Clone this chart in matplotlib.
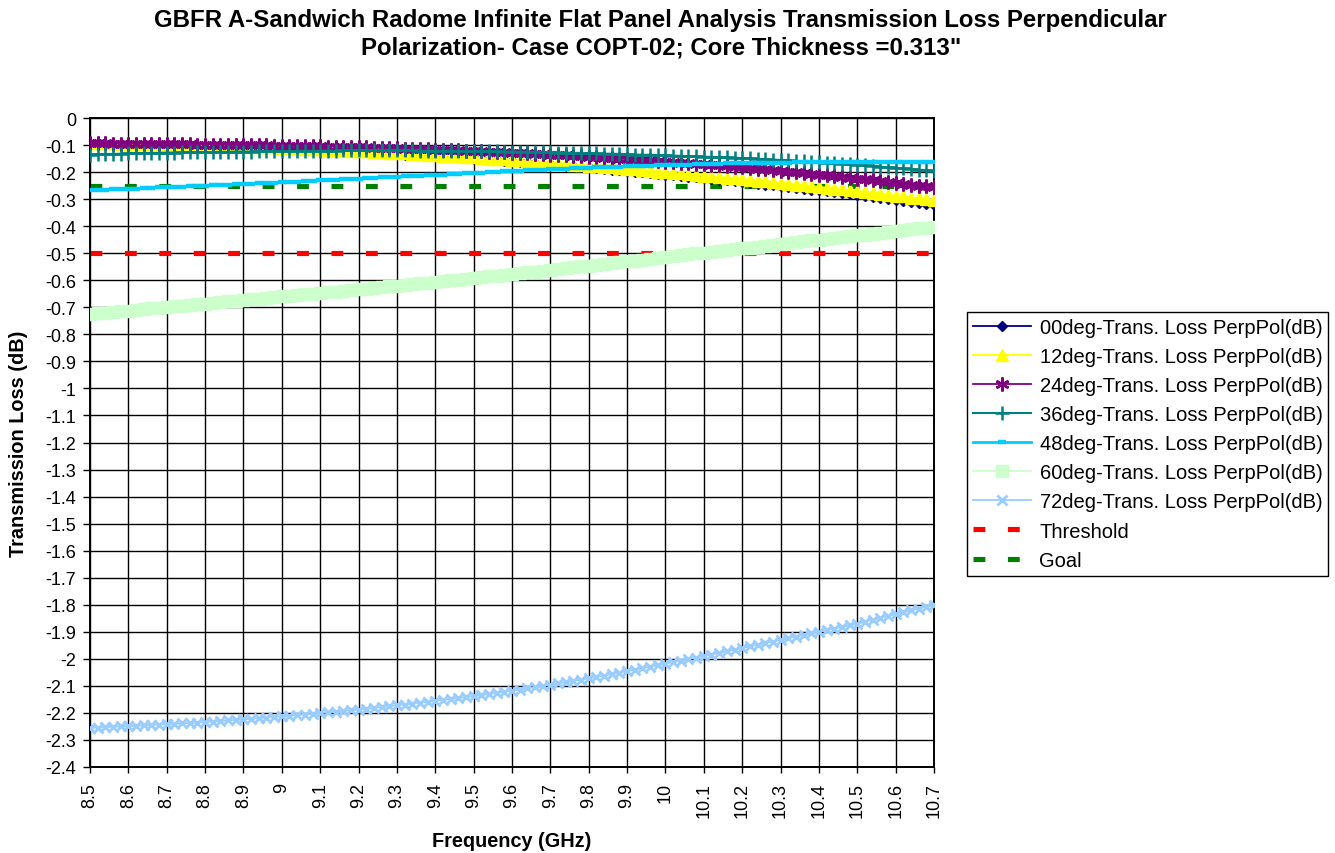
import matplotlib.pyplot as plt

plt.rcParams['font.family'] = ['Liberation Sans', 'DejaVu Sans']

# frequency categories, 8.50 .. 10.70 GHz in 0.02 steps (Excel category axis)
freq = [round(8.5 + 0.02 * i, 2) for i in range(111)]
tick_labels = ['8.5', '8.6', '8.7', '8.8', '8.9', '9', '9.1', '9.2', '9.3', '9.4', '9.5', '9.6',
               '9.7', '9.8', '9.9', '10', '10.1', '10.2', '10.3', '10.4', '10.5', '10.6', '10.7']

loss_00 = [
    -0.095, -0.095, -0.096, -0.096, -0.097, -0.097, -0.098, -0.098, -0.099, -0.099,
    -0.100, -0.101, -0.102, -0.102, -0.103, -0.104, -0.105, -0.106, -0.106, -0.107,
    -0.108, -0.109, -0.110, -0.111, -0.112, -0.113, -0.114, -0.115, -0.117, -0.118,
    -0.119, -0.120, -0.122, -0.123, -0.125, -0.126, -0.127, -0.129, -0.130, -0.132,
    -0.133, -0.135, -0.136, -0.138, -0.139, -0.141, -0.143, -0.145, -0.146, -0.148,
    -0.150, -0.152, -0.154, -0.156, -0.158, -0.160, -0.162, -0.164, -0.167, -0.169,
    -0.171, -0.173, -0.176, -0.178, -0.181, -0.183, -0.186, -0.188, -0.191, -0.193,
    -0.196, -0.199, -0.201, -0.204, -0.206, -0.209, -0.212, -0.215, -0.217, -0.220,
    -0.223, -0.226, -0.229, -0.231, -0.234, -0.237, -0.240, -0.243, -0.246, -0.249,
    -0.252, -0.255, -0.258, -0.262, -0.265, -0.268, -0.271, -0.275, -0.278, -0.282,
    -0.285, -0.289, -0.292, -0.296, -0.299, -0.303, -0.307, -0.311, -0.314, -0.318,
    -0.322]

loss_12 = [
    -0.093, -0.093, -0.094, -0.094, -0.095, -0.095, -0.096, -0.096, -0.097, -0.097,
    -0.098, -0.099, -0.099, -0.100, -0.100, -0.101, -0.102, -0.103, -0.103, -0.104,
    -0.105, -0.106, -0.107, -0.108, -0.109, -0.110, -0.111, -0.112, -0.114, -0.115,
    -0.116, -0.117, -0.118, -0.120, -0.121, -0.122, -0.123, -0.125, -0.126, -0.128,
    -0.129, -0.131, -0.132, -0.134, -0.135, -0.137, -0.139, -0.141, -0.142, -0.144,
    -0.146, -0.148, -0.150, -0.151, -0.153, -0.155, -0.157, -0.159, -0.161, -0.163,
    -0.165, -0.167, -0.169, -0.172, -0.174, -0.176, -0.178, -0.181, -0.183, -0.186,
    -0.188, -0.190, -0.193, -0.195, -0.198, -0.200, -0.203, -0.205, -0.208, -0.210,
    -0.213, -0.216, -0.218, -0.221, -0.223, -0.226, -0.229, -0.232, -0.234, -0.237,
    -0.240, -0.243, -0.246, -0.249, -0.252, -0.255, -0.258, -0.261, -0.264, -0.267,
    -0.270, -0.273, -0.277, -0.280, -0.284, -0.287, -0.290, -0.294, -0.297, -0.301,
    -0.304]

loss_24 = [
    -0.094, -0.094, -0.094, -0.095, -0.095, -0.095, -0.095, -0.095, -0.096, -0.096,
    -0.096, -0.096, -0.097, -0.097, -0.098, -0.098, -0.098, -0.099, -0.099, -0.100,
    -0.100, -0.100, -0.101, -0.101, -0.102, -0.102, -0.103, -0.103, -0.104, -0.104,
    -0.105, -0.106, -0.106, -0.107, -0.107, -0.108, -0.109, -0.110, -0.110, -0.111,
    -0.112, -0.113, -0.114, -0.115, -0.116, -0.117, -0.118, -0.119, -0.120, -0.121,
    -0.122, -0.123, -0.124, -0.126, -0.127, -0.128, -0.129, -0.131, -0.132, -0.134,
    -0.135, -0.137, -0.138, -0.140, -0.141, -0.143, -0.145, -0.147, -0.148, -0.150,
    -0.152, -0.154, -0.156, -0.157, -0.159, -0.161, -0.163, -0.165, -0.167, -0.169,
    -0.171, -0.173, -0.175, -0.178, -0.180, -0.182, -0.185, -0.187, -0.190, -0.192,
    -0.195, -0.198, -0.201, -0.203, -0.206, -0.209, -0.212, -0.215, -0.218, -0.221,
    -0.224, -0.227, -0.230, -0.234, -0.237, -0.240, -0.243, -0.246, -0.250, -0.253,
    -0.256]

loss_36 = [
    -0.135, -0.134, -0.133, -0.133, -0.132, -0.131, -0.130, -0.130, -0.129, -0.129,
    -0.128, -0.128, -0.127, -0.127, -0.126, -0.126, -0.126, -0.125, -0.125, -0.124,
    -0.124, -0.124, -0.123, -0.123, -0.122, -0.122, -0.122, -0.122, -0.121, -0.121,
    -0.121, -0.121, -0.121, -0.120, -0.120, -0.120, -0.120, -0.120, -0.120, -0.120,
    -0.120, -0.120, -0.120, -0.121, -0.121, -0.121, -0.121, -0.121, -0.122, -0.122,
    -0.122, -0.122, -0.123, -0.123, -0.124, -0.124, -0.125, -0.125, -0.126, -0.126,
    -0.127, -0.128, -0.128, -0.129, -0.129, -0.130, -0.131, -0.132, -0.132, -0.133,
    -0.134, -0.135, -0.136, -0.136, -0.137, -0.138, -0.139, -0.140, -0.141, -0.142,
    -0.143, -0.144, -0.145, -0.146, -0.147, -0.148, -0.149, -0.151, -0.152, -0.154,
    -0.155, -0.157, -0.158, -0.160, -0.161, -0.163, -0.165, -0.167, -0.169, -0.171,
    -0.173, -0.175, -0.177, -0.180, -0.182, -0.184, -0.186, -0.188, -0.191, -0.193,
    -0.195]

loss_48 = [
    -0.268, -0.267, -0.266, -0.264, -0.263, -0.262, -0.261, -0.260, -0.258, -0.257,
    -0.256, -0.255, -0.254, -0.252, -0.251, -0.250, -0.249, -0.248, -0.246, -0.245,
    -0.244, -0.243, -0.242, -0.240, -0.239, -0.238, -0.237, -0.235, -0.234, -0.232,
    -0.231, -0.230, -0.228, -0.227, -0.225, -0.224, -0.223, -0.221, -0.220, -0.218,
    -0.217, -0.216, -0.214, -0.213, -0.211, -0.210, -0.209, -0.207, -0.206, -0.204,
    -0.203, -0.202, -0.200, -0.199, -0.197, -0.196, -0.195, -0.194, -0.192, -0.191,
    -0.190, -0.189, -0.188, -0.186, -0.185, -0.184, -0.183, -0.182, -0.181, -0.180,
    -0.179, -0.178, -0.177, -0.176, -0.175, -0.174, -0.173, -0.172, -0.172, -0.171,
    -0.170, -0.169, -0.169, -0.168, -0.168, -0.167, -0.167, -0.166, -0.166, -0.165,
    -0.165, -0.165, -0.164, -0.164, -0.163, -0.163, -0.163, -0.163, -0.162, -0.162,
    -0.162, -0.162, -0.162, -0.161, -0.161, -0.161, -0.161, -0.161, -0.161, -0.161,
    -0.161]

loss_60 = [
    -0.725, -0.722, -0.720, -0.717, -0.715, -0.712, -0.709, -0.707, -0.704, -0.702,
    -0.699, -0.696, -0.694, -0.691, -0.689, -0.686, -0.683, -0.681, -0.678, -0.676,
    -0.673, -0.670, -0.668, -0.665, -0.663, -0.660, -0.657, -0.655, -0.652, -0.650,
    -0.647, -0.644, -0.642, -0.639, -0.637, -0.634, -0.631, -0.628, -0.626, -0.623,
    -0.620, -0.617, -0.614, -0.612, -0.609, -0.606, -0.603, -0.600, -0.598, -0.595,
    -0.592, -0.589, -0.586, -0.583, -0.580, -0.577, -0.574, -0.571, -0.568, -0.565,
    -0.562, -0.559, -0.556, -0.552, -0.549, -0.546, -0.543, -0.540, -0.536, -0.533,
    -0.530, -0.527, -0.524, -0.520, -0.517, -0.514, -0.511, -0.508, -0.504, -0.501,
    -0.498, -0.495, -0.492, -0.488, -0.485, -0.482, -0.479, -0.476, -0.472, -0.469,
    -0.466, -0.463, -0.460, -0.456, -0.453, -0.450, -0.447, -0.444, -0.440, -0.437,
    -0.434, -0.431, -0.428, -0.424, -0.421, -0.418, -0.415, -0.412, -0.408, -0.405,
    -0.402]

loss_72 = [
    -2.255, -2.254, -2.253, -2.251, -2.250, -2.249, -2.248, -2.246, -2.245, -2.243,
    -2.242, -2.240, -2.239, -2.237, -2.236, -2.234, -2.232, -2.230, -2.228, -2.226,
    -2.224, -2.222, -2.220, -2.217, -2.215, -2.213, -2.211, -2.208, -2.206, -2.203,
    -2.201, -2.198, -2.196, -2.193, -2.191, -2.188, -2.185, -2.182, -2.178, -2.175,
    -2.172, -2.169, -2.166, -2.162, -2.159, -2.156, -2.152, -2.149, -2.145, -2.142,
    -2.138, -2.134, -2.130, -2.126, -2.122, -2.118, -2.114, -2.109, -2.105, -2.100,
    -2.096, -2.091, -2.086, -2.082, -2.077, -2.072, -2.067, -2.062, -2.056, -2.051,
    -2.046, -2.040, -2.035, -2.029, -2.024, -2.018, -2.012, -2.007, -2.001, -1.996,
    -1.990, -1.984, -1.978, -1.972, -1.966, -1.960, -1.954, -1.948, -1.942, -1.936,
    -1.930, -1.924, -1.918, -1.912, -1.906, -1.900, -1.894, -1.888, -1.882, -1.876,
    -1.870, -1.863, -1.856, -1.849, -1.842, -1.835, -1.828, -1.821, -1.814, -1.807,
    -1.800]

threshold = -0.5
goal = -0.25

fig = plt.figure(figsize=(13.35, 8.54), dpi=100)
ax = fig.add_axes([90 / 1335, 1 - 768 / 854, 844 / 1335, 649 / 854])

x = list(range(len(freq)))

ax.plot(x, loss_00, color='#000080', lw=1.3, marker='D', ms=5, mec='#000080', mfc='#000080',
        label='00deg-Trans. Loss PerpPol(dB)', zorder=3)
ax.plot(x, loss_12, color='#FFFF00', lw=1.3, marker='^', ms=9, mec='#FFFF00', mfc='#FFFF00',
        label='12deg-Trans. Loss PerpPol(dB)', zorder=3)
ax.plot(x, loss_24, color='#800080', lw=1.3, marker=(6, 2, 0), ms=10, mew=1.8, mec='#800080',
        label='24deg-Trans. Loss PerpPol(dB)', zorder=3)
ax.plot(x, loss_36, color='#008080', lw=1.5, marker='+', ms=10, mew=1.8, mec='#008080',
        label='36deg-Trans. Loss PerpPol(dB)', zorder=3)
ax.plot(x, loss_48, color='#00CCFF', lw=2, marker='_', ms=6, mew=3.2, mec='#00CCFF',
        label='48deg-Trans. Loss PerpPol(dB)', zorder=3)
ax.plot(x, loss_60, color='#CCFFCC', lw=1.3, marker='s', ms=8.5, mec='#CCFFCC', mfc='#CCFFCC',
        label='60deg-Trans. Loss PerpPol(dB)', zorder=3)
ax.plot(x, loss_72, color='#99CCFF', lw=1.3, marker='x', ms=7.5, mew=2, mec='#99CCFF',
        label='72deg-Trans. Loss PerpPol(dB)', zorder=3)
ax.plot(x, [threshold] * len(x), color='#FF0000', lw=3.7, ls=(0, (2.3, 4.4)),
        dash_capstyle='butt', label='Threshold', zorder=2)
ax.plot(x, [goal] * len(x), color='#008000', lw=3.7, ls=(0, (2.3, 4.4)),
        dash_capstyle='butt', label='Goal', zorder=2)

ax.set_xlim(0, len(x) - 1)
ax.set_ylim(-2.4, 0)
ax.set_xticks(x[::5])
ax.set_xticklabels(tick_labels, rotation=90, fontsize=13)
yt = [-i / 10 for i in range(25)]
ax.set_yticks(yt)
ax.set_yticklabels([f'{v:g}' for v in yt], fontsize=13)
ax.tick_params(axis='x', length=4, width=1, pad=7)
ax.tick_params(axis='y', length=5, width=1, pad=5)

ax.grid(True, color='black', lw=1.0, zorder=1)
ax.set_axisbelow(True)
for s in ax.spines.values():
    s.set_linewidth(1.4)
    s.set_color('black')

ax.set_xlabel('Frequency (GHz)', fontsize=14.3, fontweight='bold', labelpad=10)
ax.set_ylabel('Transmission Loss (dB)', fontsize=14.3, fontweight='bold', labelpad=12)

fig.suptitle('GBFR A-Sandwich Radome Infinite Flat Panel Analysis Transmission Loss Perpendicular\n'
             'Polarization- Case COPT-02; Core Thickness =0.313"',
             x=0.495, y=0.99, fontsize=17.3, fontweight='bold', linespacing=1.28)

leg = ax.legend(loc='upper left', bbox_to_anchor=(967 / 1335, 1 - 313 / 854),
                bbox_transform=fig.transFigure, borderaxespad=0, fontsize=14.5,
                frameon=True, fancybox=False, edgecolor='black', framealpha=1,
                handlelength=2.9, handletextpad=0.4, labelspacing=0.5, borderpad=0.3,
                numpoints=1)
leg.get_frame().set_linewidth(1.0)

fig.savefig('out.png', dpi=100)
